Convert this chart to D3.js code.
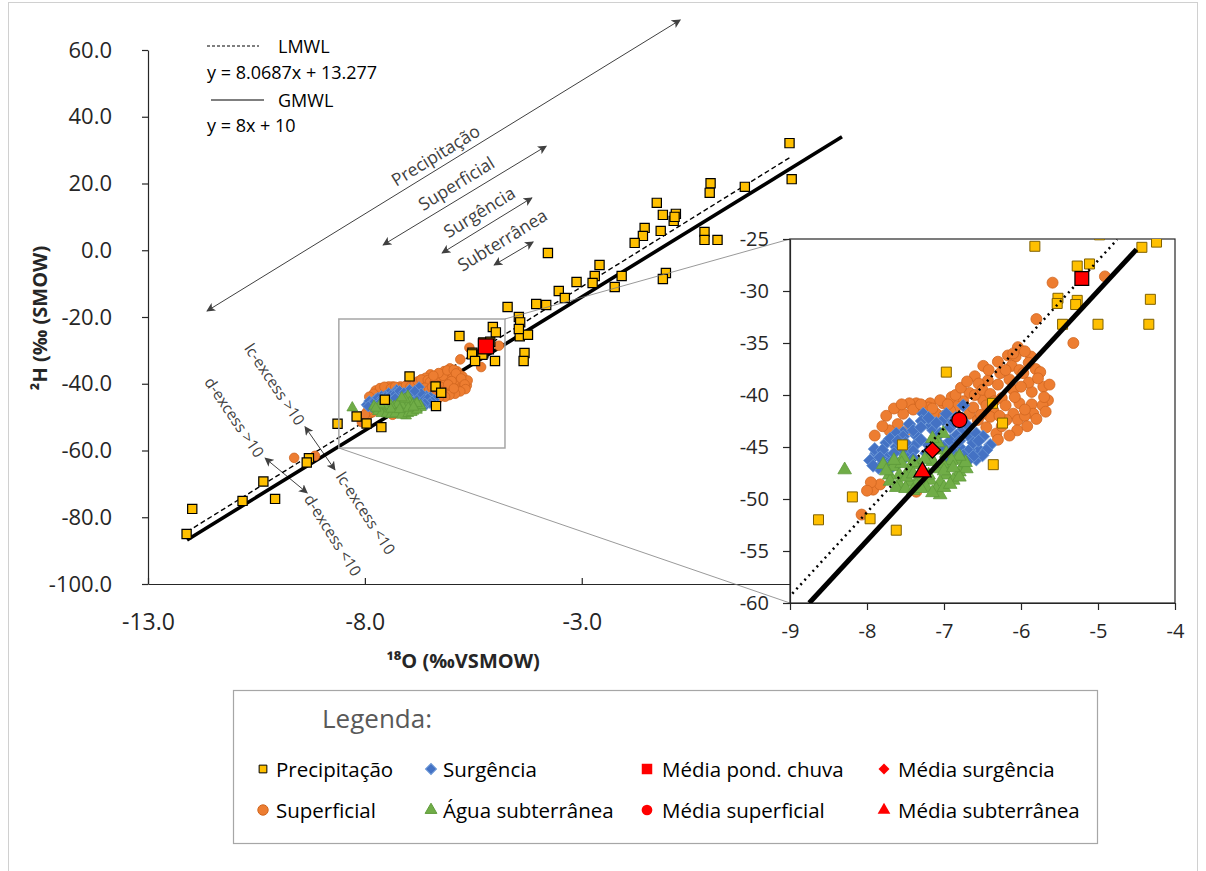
<!DOCTYPE html>
<html lang="pt">
<head>
<meta charset="utf-8">
<title>δ18O × δ2H</title>
<script src="https://cdn.jsdelivr.net/npm/d3@7/dist/d3.min.js"></script>
<style>
html,body{margin:0;padding:0;background:#fff;}
svg{display:block;font-family:"Open Sans","Noto Sans",sans-serif;}
</style>
</head>
<body>
<script>
// ---------------- data (δ18O ‰, δ2H ‰) ----------------
const xDomainMain = [-13, 3];
const yDomainMain = [-100, 60];
const xTicksMain = [-13, -8, -3];
const yTicksMain = [-100, -80, -60, -40, -20, 0, 20, 40, 60];
const xDomainInset = [-9, -4];
const yDomainInset = [-60, -25];
const xTicksInset = [-9, -8, -7, -6, -5, -4];
const yTicksInset = [-60, -55, -50, -45, -40, -35, -30, -25];

const precipitacao = [
  [-5.82,-25.7],[-4.43,-25.8],[-4.24,-25.3],[-5.27,-27.6],[-5.11,-27.4],[-5.52,-30.7],
  [-5.53,-31.2],[-5.27,-30.9],[-5.29,-31.3],[-5.46,-33.2],[-5.00,-33.2],[-4.32,-30.8],
  [-4.34,-33.2],[-6.97,-37.8],[-6.37,-40.8],[-6.24,-42.7],[-7.54,-44.8],[-6.36,-46.7],
  [-8.19,-49.8],[-8.63,-52.0],[-7.96,-51.9],[-7.62,-53.0],
  [-12.11,-85.0],[-11.98,-77.5],[-10.82,-75.1],[-10.34,-69.3],[-10.07,-74.5],[-9.29,-62.3],[-9.34,-63.6],
  [1.79,32.1],[1.84,21.3],[0.76,19.0],[-0.03,20.1],[-0.05,17.2],[-1.27,14.2],[-1.13,10.6],
  [-0.83,10.9],[-0.88,8.8],[-0.86,10.0],[-1.55,6.7],[-1.18,5.8],[-1.59,4.3],[-1.78,2.2],
  [-0.17,5.5],[-0.17,3.1],[0.13,3.1],[-3.78,-0.8],[-2.59,-4.4],[-2.70,-7.7],[-3.12,-9.5],
  [-2.75,-9.8],[-2.08,-7.7],[-3.53,-12.2],[-2.24,-11.0],[-1.06,-6.8],[-1.13,-8.6],[-3.39,-14.3],
  [-4.05,-16.1],[-3.82,-16.4],[-4.71,-17.0],[-4.45,-20.0],[-4.42,-21.6],[-4.45,-23.6],
  [-5.05,-23.0],[-4.98,-24.6]
];

const superficial = [
  [-9.63,-62.2],[-9.15,-61.6],
  [-5.59,-29.2],[-4.91,-28.6],[-5.80,-32.7],[-5.32,-35.0],[-6.04,-35.4],[-6.17,-36.2],
  [-6.07,-36.3],[-5.87,-36.3],[-6.49,-37.2],[-6.12,-37.2],[-6.02,-37.6],[-5.81,-37.5],
  [-6.60,-38.2],[-6.43,-38.6],[-6.27,-37.9],[-5.97,-37.9],[-5.75,-37.8],[-6.10,-39.5],
  [-5.86,-39.7],[-5.71,-39.2],[-6.02,-40.8],[-5.86,-40.9],[-5.84,-41.8],[-6.10,-41.8],
  [-6.04,-42.4],[-6.19,-42.4],[-6.36,-41.5],[-6.49,-40.5],[-6.67,-39.8],[-6.75,-40.6],
  [-6.84,-41.1],[-7.01,-40.8],[-7.18,-40.8],[-7.36,-40.8],[-7.45,-40.8],[-7.53,-41.8],
  [-7.27,-41.5],[-7.10,-41.8],[-6.92,-41.5],[-6.67,-41.8],[-6.45,-43.1],[-6.32,-43.7],
  [-6.40,-42.1],[-6.56,-42.4],[-7.60,-42.8],[-7.45,-43.3],[-7.71,-43.4],[-7.92,-49.1],
  [-7.83,-48.6],[-7.36,-49.3],[-8.07,-51.5],[-5.65,-40.5],[-5.72,-41.0],[-5.95,-42.0],
  [-6.25,-43.0],[-5.90,-38.8],[-6.30,-39.0],[-6.60,-40.0],[-6.90,-40.2],[-7.20,-41.2],
  [-7.00,-42.0],[-5.63,-39.0],
  [-7.75,-42.0],[-7.65,-41.3],[-7.55,-40.9],[-7.40,-41.4],[-7.30,-40.9],[-7.15,-41.3],
  [-7.05,-40.5],[-6.95,-40.9],[-6.85,-40.0],[-6.78,-39.3],[-6.70,-38.7],[-6.55,-38.9],
  [-6.50,-39.5],[-6.40,-39.9],[-6.35,-40.6],[-6.25,-40.3],[-6.20,-41.0],[-6.15,-38.5],
  [-6.20,-37.6],[-6.30,-36.8],[-6.10,-36.0],[-5.95,-35.8],[-5.90,-36.9],[-5.78,-38.4],
  [-5.70,-40.2],[-5.68,-41.6],[-5.80,-42.3],[-5.92,-43.0],[-6.05,-43.4],[-6.15,-43.9],
  [-6.30,-44.3],[-6.62,-41.2],[-6.52,-41.9],[-6.45,-41.0],[-6.00,-39.2],[-6.08,-40.2],
  [-5.95,-41.4],[-6.28,-42.0],[-7.80,-43.0],[-7.90,-43.9],[-7.95,-48.4],[-8.00,-49.2],
  [-6.42,-37.6]
];

const surgencia = [
  [-6.75,-41.0],[-7.27,-41.8],[-7.45,-42.8],[-7.18,-43.0],[-7.01,-42.4],[-6.92,-43.1],
  [-7.53,-43.6],[-7.36,-43.9],[-7.62,-43.7],[-7.75,-44.6],[-7.62,-45.0],[-7.45,-45.0],
  [-7.88,-45.6],[-7.75,-45.9],[-7.96,-46.3],[-7.85,-47.0],[-7.75,-46.5],[-7.23,-45.6],
  [-7.10,-44.4],[-6.84,-43.9],[-6.75,-43.3],[-6.67,-44.0],[-6.58,-43.7],[-6.49,-44.0],
  [-6.40,-44.8],[-6.54,-45.3],[-6.58,-46.2],[-6.67,-45.3],[-6.80,-45.0],[-6.92,-44.4],
  [-6.75,-45.8],[-6.97,-46.0],[-7.01,-45.0],[-6.84,-45.6],[-7.36,-44.7],[-7.49,-45.9],
  [-7.66,-46.3],[-7.53,-44.0],[-7.14,-43.4],[-7.29,-42.5],[-6.97,-41.8],
  [-7.90,-45.2],[-7.80,-45.3],[-7.70,-44.2],[-7.60,-44.4],[-7.50,-44.6],[-7.40,-43.4],
  [-7.30,-43.1],[-7.20,-42.2],[-7.10,-42.7],[-7.05,-43.7],[-6.88,-42.6],[-6.80,-44.4],
  [-6.70,-42.9],[-6.62,-44.6],[-6.55,-44.4],[-6.45,-45.3],[-6.50,-45.8],[-6.62,-45.9],
  [-6.70,-46.4],[-6.90,-45.3],[-7.20,-44.8],[-7.40,-45.4],[-7.55,-45.4],[-7.65,-45.6],
  [-7.83,-46.0],[-7.92,-46.8],[-7.70,-47.1],[-7.60,-46.6],[-7.40,-46.1],[-7.30,-44.3],
  [-6.85,-42.2]
];

const subterranea = [
  [-8.29,-47.2],[-7.01,-43.7],[-7.79,-46.7],[-7.53,-46.0],[-7.66,-46.9],[-7.58,-47.7],
  [-7.45,-47.1],[-7.32,-46.7],[-7.18,-45.9],[-7.10,-47.1],[-6.97,-47.7],[-6.84,-46.2],
  [-6.75,-46.8],[-6.80,-47.4],[-6.92,-46.8],[-7.05,-48.4],[-7.18,-48.2],[-7.32,-47.9],
  [-7.45,-48.4],[-7.58,-48.6],[-7.36,-48.7],[-7.10,-49.1],[-7.05,-49.6],[-7.23,-48.9],
  [-6.88,-48.2],[-6.71,-47.1],[-7.71,-47.7],[-7.49,-47.9],[-7.27,-47.3],[-6.97,-45.6],
  [-7.10,-45.3],
  [-7.70,-48.3],[-7.62,-48.9],[-7.50,-49.0],[-7.40,-49.2],[-7.30,-49.0],[-7.15,-49.4],
  [-7.00,-48.9],[-6.92,-48.6],[-6.80,-47.9],[-6.72,-46.5],[-6.80,-45.9],[-6.90,-46.3],
  [-7.02,-46.6],[-7.15,-46.4],[-7.25,-46.2],[-7.40,-46.5],[-7.55,-46.6],[-7.65,-46.3],
  [-7.75,-47.3],[-7.40,-47.6],[-7.20,-47.7],[-7.00,-47.3],[-6.88,-47.0],[-7.08,-44.6],
  [-7.15,-44.2]
];

const mediaChuva = [[-5.21,-28.8]];
const mediaSuperficial = [[-6.80,-42.4]];
const mediaSurgencia = [[-7.15,-45.3]];
const mediaSubterranea = [[-7.28,-47.4]];

// meteoric water lines: slope, intercept, x-extent in each panel
const lmwl = {slope: 8.0687, intercept: 13.277, main: [-12.1, 1.84], inset: [-8.97, -4.75]};
const gmwl = {slope: 8, intercept: 10, main: [-12.1, 3.0], inset: [-8.75, -4.5]};

// ---------------- setup ----------------
const W = 1206, H = 871;
const svg = d3.select("body").append("svg").attr("width", W).attr("height", H);
const locale = d3.formatLocale({decimal: ".", thousands: ",", grouping: [3], currency: ["", ""], minus: "-"});
const fmt1 = locale.format(".1f");
const fmt0 = locale.format("d");

svg.append("rect").attr("x", 8.5).attr("y", 2.5).attr("width", 1189).attr("height", 880)
  .attr("fill", "none").attr("stroke", "#d0d0d0");

const x = d3.scaleLinear().domain(xDomainMain).range([148, 842]);
const y = d3.scaleLinear().domain(yDomainMain).range([584, 50]);
const xi = d3.scaleLinear().domain(xDomainInset).range([790, 1175]);
const yi = d3.scaleLinear().domain(yDomainInset).range([603, 239]);

const ink = "#262626";
const annot = "#404040";

// arrow heads
const defs = svg.append("defs");
defs.append("marker").attr("id", "arr").attr("viewBox", "0 0 10 10")
  .attr("refX", 9).attr("refY", 5).attr("markerWidth", 9).attr("markerHeight", 9)
  .attr("markerUnits", "userSpaceOnUse").attr("orient", "auto-start-reverse")
  .append("path").attr("d", "M0,0 L10,5 L0,10 L2.5,5 Z").attr("fill", annot);
defs.append("clipPath").attr("id", "insetClip").append("rect")
  .attr("x", 790).attr("y", 239).attr("width", 385).attr("height", 364);

// marker drawing
const styles = {
  prec:  {type: d3.symbolSquare,   fill: "#FFC000", stroke: "#000",    sw: 1.2},
  precI: {type: d3.symbolSquare,   fill: "#FFC000", stroke: "#7F6000", sw: 1},
  sup:   {type: d3.symbolCircle,   fill: "#ED7D31", stroke: "#D0661F", sw: 0.8},
  surg:  {type: d3.symbolSquare,   fill: "#4472C4", stroke: "#6A97D6", sw: 0.8, rot: 45},
  sub:   {type: d3.symbolTriangle, fill: "#70AD47", stroke: "#5E9A3A", sw: 0.8},
  mSq:   {type: d3.symbolSquare,   fill: "#FF0000", stroke: "#000",    sw: 1.2},
  mCi:   {type: d3.symbolCircle,   fill: "#FF0000", stroke: "#000",    sw: 1.2},
  mDi:   {type: d3.symbolSquare,   fill: "#FF0000", stroke: "#000",    sw: 1.2, rot: 45},
  mTr:   {type: d3.symbolTriangle, fill: "#FF0000", stroke: "#000",    sw: 1.2}
};
function drawPoints(g, data, st, size, xs, ys) {
  g.append("g").selectAll("path").data(data).join("path")
    .attr("d", d3.symbol().type(st.type).size(size))
    .attr("transform", d => `translate(${xs(d[0])},${ys(d[1])})` + (st.rot ? ` rotate(${st.rot})` : ""))
    .attr("fill", st.fill).attr("stroke", st.stroke).attr("stroke-width", st.sw);
}
function wmLine(g, L, ext, xs, ys) {
  const pts = ext.map(v => [v, L.slope * v + L.intercept]);
  return g.append("path").attr("d", d3.line().x(d => xs(d[0])).y(d => ys(d[1]))(pts)).attr("fill", "none");
}
function styleAxis(g, size) {
  g.select(".domain").attr("stroke", ink).attr("stroke-width", 1.2);
  g.selectAll(".tick line").attr("stroke", ink).attr("stroke-width", 1.2);
  g.selectAll(".tick text").attr("fill", ink).attr("font-size", size)
    .attr("font-family", "'Open Sans','Noto Sans',sans-serif");
}

// ---------------- main panel ----------------
const main = svg.append("g");

const gy = main.append("g").attr("transform", `translate(${x(xDomainMain[0])},0)`)
  .call(d3.axisLeft(y).tickValues(yTicksMain).tickFormat(fmt1).tickSizeInner(6).tickSizeOuter(0).tickPadding(30));
styleAxis(gy, 22);
const gx = main.append("g").attr("transform", `translate(0,${y(yDomainMain[0])})`)
  .call(d3.axisBottom(x).tickValues(xTicksMain).tickFormat(fmt1).tickSizeInner(-6).tickSizeOuter(0).tickPadding(30));
styleAxis(gx, 23);

main.append("text").attr("x", 463).attr("y", 668).attr("text-anchor", "middle")
  .attr("font-size", 20).attr("font-weight", 700).attr("fill", ink).text("¹⁸O (‰VSMOW)");
main.append("text").attr("transform", "translate(47,318) rotate(-90)").attr("text-anchor", "middle")
  .attr("font-size", 20).attr("font-weight", 700).attr("fill", ink).text("²H (‰ (SMOW)");

// range arrows for each water type
const rangeArrows = [
  {label: "Precipitação", from: [-11.64, -18.2], to: [-0.73, 69.0], at: [-6.38, 28.6]},
  {label: "Superficial",  from: [-7.58, 1.6],    to: [-3.82, 31.2], at: [-5.90, 20.2]},
  {label: "Surgência",    from: [-6.22, -0.8],   to: [-4.15, 15.7], at: [-5.37, 11.6]},
  {label: "Subterrânea",  from: [-5.02, -4.4],   to: [-4.12, 2.5],  at: [-4.84, 3.2]}
];
const slopeAngle = Math.atan2(y(gmwl.slope * 1) - y(0), x(1) - x(0)) * 180 / Math.PI;
rangeArrows.forEach(a => {
  main.append("line").attr("x1", x(a.from[0])).attr("y1", y(a.from[1]))
    .attr("x2", x(a.to[0])).attr("y2", y(a.to[1]))
    .attr("stroke", annot).attr("stroke-width", 1)
    .attr("marker-start", "url(#arr)").attr("marker-end", "url(#arr)");
  main.append("text").attr("transform", `translate(${x(a.at[0])},${y(a.at[1])}) rotate(${slopeAngle})`)
    .attr("text-anchor", "middle").attr("dominant-baseline", "central")
    .attr("font-size", 17.5).attr("fill", annot).text(a.label);
});

// excess arrows
const excessArrows = [
  {from: [-9.38, -52.9], to: [-8.69, -65.8]},
  {from: [-10.30, -62.3], to: [-9.33, -72.7]}
];
excessArrows.forEach(a => {
  main.append("line").attr("x1", x(a.from[0])).attr("y1", y(a.from[1]))
    .attr("x2", x(a.to[0])).attr("y2", y(a.to[1]))
    .attr("stroke", annot).attr("stroke-width", 1)
    .attr("marker-start", "url(#arr)").attr("marker-end", "url(#arr)");
});
const excessLabels = [
  {label: "lc-excess >10", at: [-10.07, -40.1], rot: 56},
  {label: "d-excess >10",  at: [-11.0, -50.0],  rot: 56},
  {label: "lc-excess <10", at: [-7.97, -78.7],  rot: 57},
  {label: "d-excess <10",  at: [-8.73, -85.3],  rot: 58}
];
excessLabels.forEach(t => {
  main.append("text").attr("transform", `translate(${x(t.at[0])},${y(t.at[1])}) rotate(${t.rot})`)
    .attr("text-anchor", "middle").attr("dominant-baseline", "central")
    .attr("font-size", 15.5).attr("fill", annot).text(t.label);
});

// water lines
wmLine(main, gmwl, gmwl.main, x, y).attr("stroke", "#000").attr("stroke-width", 3.6);
wmLine(main, lmwl, lmwl.main, x, y).attr("stroke", "#000").attr("stroke-width", 1.4).attr("stroke-dasharray", "5,3");

// points
drawPoints(main, superficial, styles.sup, 72, x, y);
drawPoints(main, surgencia, styles.surg, 60, x, y);
drawPoints(main, subterranea, styles.sub, 50, x, y);
drawPoints(main, precipitacao, styles.prec, 85, x, y);
drawPoints(main, mediaChuva, styles.mSq, 230, x, y);

// line key
const key = main.append("g").attr("font-size", 18).attr("fill", "#000");
key.append("line").attr("x1", 207).attr("x2", 259).attr("y1", 46).attr("y2", 46)
  .attr("stroke", "#000").attr("stroke-width", 1.2).attr("stroke-dasharray", "3,2");
key.append("text").attr("x", 278).attr("y", 46).attr("dominant-baseline", "central").text("LMWL");
key.append("text").attr("x", 207).attr("y", 72).attr("dominant-baseline", "central")
  .text(`y = ${lmwl.slope}x + ${lmwl.intercept}`);
key.append("line").attr("x1", 211).attr("x2", 264).attr("y1", 100).attr("y2", 100)
  .attr("stroke", "#000").attr("stroke-width", 1.2);
key.append("text").attr("x", 278).attr("y", 100).attr("dominant-baseline", "central").text("GMWL");
key.append("text").attr("x", 207).attr("y", 125).attr("dominant-baseline", "central")
  .text(`y = ${gmwl.slope}x + ${gmwl.intercept}`);

// zoom callout: box around the cluster and leader lines to the inset
const callout = {x0: -8.6, x1: -4.77, y0: -59.25, y1: -20.6};
main.append("rect").attr("x", x(callout.x0)).attr("y", y(callout.y1))
  .attr("width", x(callout.x1) - x(callout.x0)).attr("height", y(callout.y0) - y(callout.y1))
  .attr("fill", "none").attr("stroke", "#a6a6a6").attr("stroke-width", 1.5);
main.append("line").attr("x1", x(callout.x1)).attr("y1", y(callout.y1))
  .attr("x2", xi(xDomainInset[0])).attr("y2", yi(yDomainInset[1]))
  .attr("stroke", "#7f7f7f").attr("stroke-width", 0.8);
main.append("line").attr("x1", x(callout.x0)).attr("y1", y(callout.y0))
  .attr("x2", xi(xDomainInset[0])).attr("y2", yi(yDomainInset[0]))
  .attr("stroke", "#7f7f7f").attr("stroke-width", 0.8);

// ---------------- inset panel ----------------
const inset = svg.append("g");
inset.append("rect").attr("x", 790).attr("y", 239).attr("width", 385).attr("height", 364)
  .attr("fill", "#fff").attr("stroke", ink).attr("stroke-width", 1.2);
const giy = inset.append("g").attr("transform", `translate(${xi(xDomainInset[0])},0)`)
  .call(d3.axisLeft(yi).tickValues(yTicksInset).tickFormat(fmt0).tickSizeInner(7).tickSizeOuter(0).tickPadding(14));
styleAxis(giy, 20);
const gix = inset.append("g").attr("transform", `translate(0,${yi(yDomainInset[0])})`)
  .call(d3.axisBottom(xi).tickValues(xTicksInset).tickFormat(fmt0).tickSizeInner(7).tickSizeOuter(0).tickPadding(14));
styleAxis(gix, 20);

const plotI = inset.append("g").attr("clip-path", "url(#insetClip)");
drawPoints(plotI, superficial, styles.sup, 95, xi, yi);
drawPoints(plotI, surgencia, styles.surg, 85, xi, yi);
drawPoints(plotI, subterranea, styles.sub, 80, xi, yi);
drawPoints(plotI, precipitacao, styles.precI, 100, xi, yi);
wmLine(plotI, lmwl, lmwl.inset, xi, yi).attr("stroke", "#000").attr("stroke-width", 2.5)
  .attr("stroke-dasharray", "2,4");
wmLine(plotI, gmwl, gmwl.inset, xi, yi).attr("stroke", "#000").attr("stroke-width", 5);
drawPoints(plotI, mediaChuva, styles.mSq, 190, xi, yi);
drawPoints(plotI, mediaSuperficial, styles.mCi, 180, xi, yi);
drawPoints(plotI, mediaSurgencia, styles.mDi, 130, xi, yi);
drawPoints(plotI, mediaSubterranea, styles.mTr, 130, xi, yi);

// ---------------- legend ----------------
const leg = svg.append("g");
leg.append("rect").attr("x", 233.5).attr("y", 690.5).attr("width", 864).attr("height", 153)
  .attr("fill", "#fff").attr("stroke", "#a6a6a6").attr("stroke-width", 1.2);
leg.append("text").attr("x", 322).attr("y", 718).attr("dominant-baseline", "central")
  .attr("font-size", 26).attr("fill", "#595959").text("Legenda:");
const legendItems = [
  {label: "Precipitação",      st: styles.prec, size: 60,  col: 0, row: 0},
  {label: "Surgência",         st: styles.surg, size: 60,  col: 1, row: 0},
  {label: "Média pond. chuva", st: styles.mSq,  size: 110, col: 2, row: 0},
  {label: "Média surgência",   st: styles.mDi,  size: 60,  col: 3, row: 0},
  {label: "Superficial",       st: styles.sup,  size: 85,  col: 0, row: 1},
  {label: "Água subterrânea",  st: styles.sub,  size: 60,  col: 1, row: 1},
  {label: "Média superficial", st: styles.mCi,  size: 90,  col: 2, row: 1},
  {label: "Média subterrânea", st: styles.mTr,  size: 70,  col: 3, row: 1}
];
const meanStyles = [styles.mSq, styles.mCi, styles.mDi, styles.mTr];
const colX = [263, 431, 647, 884];
const textX = [276, 443, 662, 898];
const rowY = [769, 810];
legendItems.forEach(it => {
  const st = Object.assign({}, it.st, {stroke: meanStyles.includes(it.st) ? "none" : it.st.stroke, sw: 1});
  drawPoints(leg, [[0, 0]], st, it.size, () => colX[it.col], () => rowY[it.row]);
  leg.append("text").attr("x", textX[it.col]).attr("y", rowY[it.row]).attr("dominant-baseline", "central")
    .attr("font-size", 20.5).attr("fill", "#000").text(it.label);
});
</script>
</body>
</html>
